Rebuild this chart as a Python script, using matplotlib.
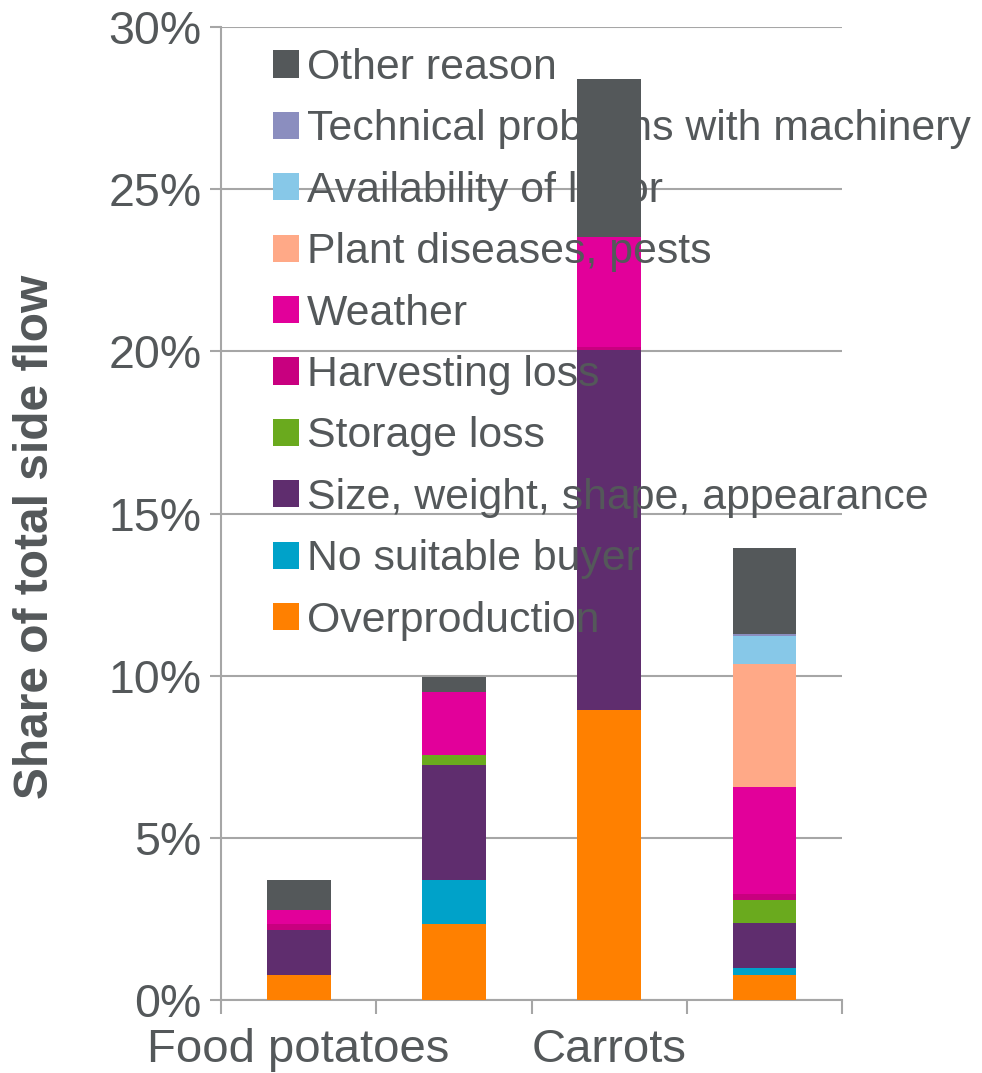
import numpy as np
import matplotlib.pyplot as plt
from matplotlib.ticker import PercentFormatter, FixedLocator

plt.rcParams['font.family'] = ['Liberation Sans', 'DejaVu Sans']

# categories (2nd and 4th labels are not shown in the original chart)
categories = ["Food potatoes", "", "Carrots", ""]

# values in % of total side flow
overproduction = [0.77, 2.34, 8.94, 0.77]
no_buyer = [0.0, 1.36, 0.0, 0.23]
size_shape = [1.39, 3.55, 11.10, 1.38]
storage = [0.0, 0.31, 0.0, 0.71]
harvesting = [0.185, 0.0, 0.10, 0.185]
weather = [0.43, 1.94, 3.39, 3.30]
plant_dis = [0.0, 0.0, 0.0, 3.80]
labour = [0.0, 0.0, 0.0, 0.85]
technical = [0.0, 0.0, 0.0, 0.06]
other = [0.925, 0.47, 4.87, 2.65]

series = [
    ("Overproduction", overproduction, "#ff8000"),
    ("No suitable buyer", no_buyer, "#00a2c9"),
    ("Size, weight, shape, appearance", size_shape, "#5f2d6e"),
    ("Storage loss", storage, "#6aaa1e"),
    ("Harvesting loss", harvesting, "#c8007f"),
    ("Weather", weather, "#e2009a"),
    ("Plant diseases, pests", plant_dis, "#ffa987"),
    ("Availability of labor", labour, "#87c8e8"),
    ("Technical problems with machinery", technical, "#8b8ebf"),
    ("Other reason", other, "#54585a"),
]

TXT = "#54585a"
GRID = "#a6a6a6"

fig = plt.figure(figsize=(9.82, 10.73), dpi=100)
ax = fig.add_axes([0.2251, 0.0680, 0.6324, 0.9068])

x = np.arange(len(categories))
bottom = np.zeros(len(categories))
handles = []
for name, vals, col in series:
    b = ax.bar(x, vals, 0.41, bottom=bottom, color=col, label=name, zorder=3)
    bottom += np.array(vals)
    handles.append(b)

ax.set_xlim(-0.5, len(categories) - 0.5)
ax.set_ylim(0, 30)
ax.yaxis.set_major_locator(FixedLocator(np.arange(0, 31, 5)))
ax.yaxis.set_major_formatter(PercentFormatter(decimals=0))
ax.yaxis.grid(True, color=GRID, linewidth=1.5)
ax.set_axisbelow(True)

# ticks at category boundaries, labels at centres
ax.set_xticks(np.arange(-0.5, len(categories), 1.0))
ax.set_xticklabels([])
ax.set_xticks(x, minor=True)
ax.set_xticklabels(categories, minor=True)
ax.tick_params(axis='x', which='major', length=10, width=1.5, color=GRID, direction='out')
ax.tick_params(axis='x', which='minor', length=0, pad=20, labelsize=34, labelcolor=TXT)
ax.tick_params(axis='y', length=8, width=1.5, color=GRID, pad=6, labelsize=33.5, labelcolor=TXT)

for s in ['top', 'right']:
    ax.spines[s].set_visible(False)
for s in ['left', 'bottom']:
    ax.spines[s].set_color(GRID)
    ax.spines[s].set_linewidth(1.5)

ax.set_ylabel("Share of total side flow", fontsize=34.5, fontweight='bold', color=TXT,
              labelpad=36)
ax.yaxis.label.set_y(0.476)

# legend sits on top of the bars; its text has the same grey as "Other reason"
leg = ax.legend(handles[::-1], [s[0] for s in series][::-1], loc='upper left',
                bbox_to_anchor=(0.0837, 0.9784), frameon=False, fontsize=30.8,
                labelcolor=TXT, handlelength=0.6, handleheight=0.6,
                handletextpad=0.2, labelspacing=0.50, borderpad=0, borderaxespad=0)

fig.savefig("out.png", dpi=100)
